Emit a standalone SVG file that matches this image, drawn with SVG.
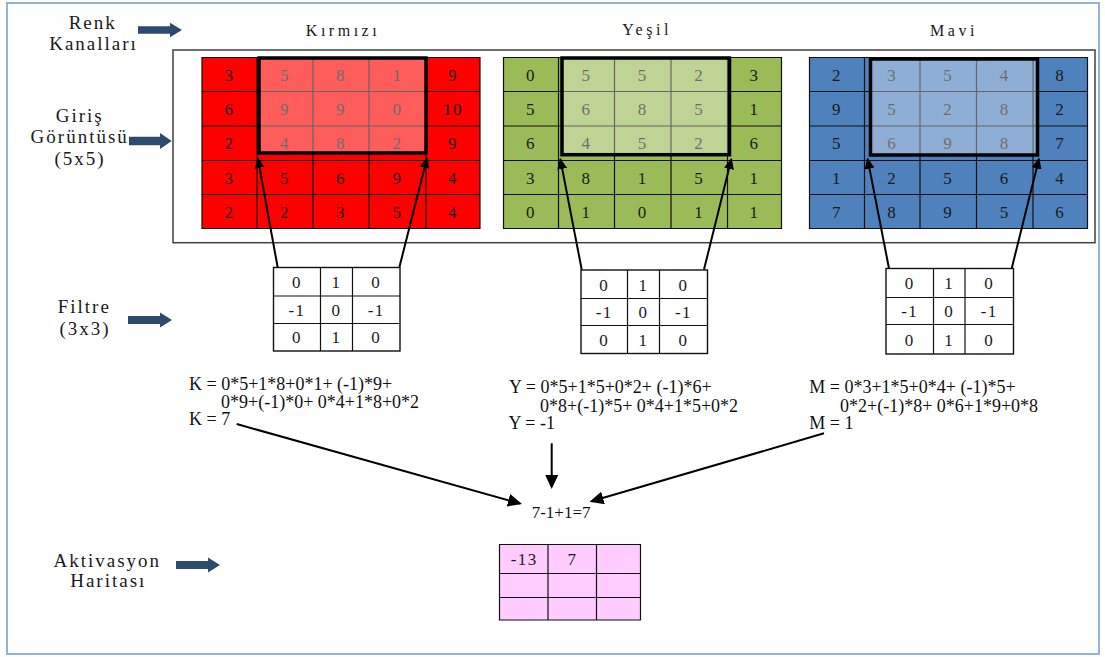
<svg xmlns="http://www.w3.org/2000/svg" width="1105" height="657" viewBox="0 0 1105 657">
  <defs>
    <style>
      .lbl { font-family: "Liberation Serif", "Times New Roman", serif; font-size: 19px; letter-spacing: 2px; fill: #1a1a1a; text-anchor: middle; }
      .ttl { font-family: "Liberation Serif", "Times New Roman", serif; font-size: 16px; letter-spacing: 3.5px; fill: #1a1a1a; text-anchor: middle; }
      .cell { font-family: "Liberation Serif", "Times New Roman", serif; font-size: 17px; letter-spacing: 1.5px; fill: #1a1a1a; text-anchor: middle; }
      .fml { font-family: "Liberation Serif", "Times New Roman", serif; font-size: 18px; fill: #111; }
      .gridln { fill: none; stroke: #111; stroke-width: 1.2; }
      .hl { fill: #ffffff; fill-opacity: 0.36; stroke: #000; stroke-width: 3.5; }
      .flt { fill: #ffffff; stroke: #111; stroke-width: 1.4; }
      .conn { fill: none; stroke: #000; stroke-width: 2; }
      .blk { fill: #2E4A6C; }
    </style>
    <marker id="headS" markerUnits="userSpaceOnUse" markerWidth="12" markerHeight="10" refX="10" refY="5" orient="auto">
      <path d="M0,0 L11,5 L0,10 z" fill="#000"/>
    </marker>
    <marker id="headL" markerUnits="userSpaceOnUse" markerWidth="15" markerHeight="13" refX="12" refY="6.5" orient="auto">
      <path d="M0,0 L14,6.5 L0,13 z" fill="#000"/>
    </marker>
    <path id="blockArrow" d="M0,-3.8 H32 V-7.2 L44,0 L32,7.2 V3.8 H0 Z"/>
  </defs>

  <!-- page background and borders -->
  <rect x="0" y="0" width="1105" height="657" fill="#ffffff"/>
  <rect x="7" y="3" width="1092" height="651" fill="#ffffff" stroke="#95B3D7" stroke-width="2"/>
  <rect x="173" y="50" width="922" height="192.7" fill="none" stroke="#404040" stroke-width="1.5"/>

  <!-- row labels -->
  <g id="label-renk">
    <text class="lbl" x="92.7" y="29">Renk</text>
    <text class="lbl" x="93.5" y="50">Kanalları</text>
    <use href="#blockArrow" class="blk" transform="translate(138,30)"/>
  </g>
  <g id="label-giris">
    <text class="lbl" x="79.7" y="121.7">Giriş</text>
    <text class="lbl" x="79.7" y="143.3">Görüntüsü</text>
    <text class="lbl" x="80" y="165">(5x5)</text>
    <use href="#blockArrow" class="blk" transform="translate(129,141) scale(0.97,1.1)"/>
  </g>
  <g id="label-filtre">
    <text class="lbl" x="84.3" y="312.7">Filtre</text>
    <text class="lbl" x="85" y="335">(3x3)</text>
    <use href="#blockArrow" class="blk" transform="translate(128,320) scale(1,1.05)"/>
  </g>
  <g id="label-aktivasyon">
    <text class="lbl" x="107.3" y="566.7">Aktivasyon</text>
    <text class="lbl" x="108.3" y="586.7">Haritası</text>
    <use href="#blockArrow" class="blk" transform="translate(176,565) scale(1,1.05)"/>
  </g>

  <!-- channel titles -->
  <text class="ttl" x="343" y="36">Kırmızı</text>
  <text class="ttl" x="647" y="35">Yeşil</text>
  <text class="ttl" x="954" y="36">Mavi</text>

  <!-- red channel 5x5 -->
  <g id="grid-red">
    <rect x="202" y="57.5" width="278" height="171" fill="#FF0000"/>
    <path class="gridln" d="M202,57.5 H480 V228.5 H202 Z M257,57.5 V228.5 M313,57.5 V228.5 M369,57.5 V228.5 M426,57.5 V228.5 M202,91.5 H480 M202,126 H480 M202,160.5 H480 M202,194.5 H480"/>
    <g class="cell">
      <text x="229.5" y="80.5">3</text><text x="285" y="80.5">5</text><text x="341" y="80.5">8</text><text x="397.5" y="80.5">1</text><text x="453" y="80.5">9</text>
      <text x="229.5" y="114.8">6</text><text x="285" y="114.8">9</text><text x="341" y="114.8">9</text><text x="397.5" y="114.8">0</text><text x="453" y="114.8">10</text>
      <text x="229.5" y="149.3">2</text><text x="285" y="149.3">4</text><text x="341" y="149.3">8</text><text x="397.5" y="149.3">2</text><text x="453" y="149.3">9</text>
      <text x="229.5" y="183.5">3</text><text x="285" y="183.5">5</text><text x="341" y="183.5">6</text><text x="397.5" y="183.5">9</text><text x="453" y="183.5">4</text>
      <text x="229.5" y="217.5">2</text><text x="285" y="217.5">2</text><text x="341" y="217.5">3</text><text x="397.5" y="217.5">5</text><text x="453" y="217.5">4</text>
    </g>
    <rect class="hl" x="259" y="58" width="167" height="95"/>
  </g>

  <!-- green channel 5x5 -->
  <g id="grid-green">
    <rect x="503.5" y="57.5" width="278" height="171" fill="#9BBB59"/>
    <path class="gridln" d="M503.5,57.5 H781.5 V228.5 H503.5 Z M558.5,57.5 V228.5 M614.5,57.5 V228.5 M671,57.5 V228.5 M727.5,57.5 V228.5 M503.5,91.5 H781.5 M503.5,126 H781.5 M503.5,160.5 H781.5 M503.5,194.5 H781.5"/>
    <g class="cell">
      <text x="531" y="80.5">0</text><text x="586.5" y="80.5">5</text><text x="642.8" y="80.5">5</text><text x="699.3" y="80.5">2</text><text x="754.5" y="80.5">3</text>
      <text x="531" y="114.8">5</text><text x="586.5" y="114.8">6</text><text x="642.8" y="114.8">8</text><text x="699.3" y="114.8">5</text><text x="754.5" y="114.8">1</text>
      <text x="531" y="149.3">6</text><text x="586.5" y="149.3">4</text><text x="642.8" y="149.3">5</text><text x="699.3" y="149.3">2</text><text x="754.5" y="149.3">6</text>
      <text x="531" y="183.5">3</text><text x="586.5" y="183.5">8</text><text x="642.8" y="183.5">1</text><text x="699.3" y="183.5">5</text><text x="754.5" y="183.5">1</text>
      <text x="531" y="217.5">0</text><text x="586.5" y="217.5">1</text><text x="642.8" y="217.5">0</text><text x="699.3" y="217.5">1</text><text x="754.5" y="217.5">1</text>
    </g>
    <rect class="hl" x="562" y="58" width="167.5" height="96.7"/>
  </g>

  <!-- blue channel 5x5 -->
  <g id="grid-blue">
    <rect x="809.5" y="57.5" width="278" height="171" fill="#4F81BD"/>
    <path class="gridln" d="M809.5,57.5 H1087.5 V228.5 H809.5 Z M864.5,57.5 V228.5 M920,57.5 V228.5 M976.5,57.5 V228.5 M1033,57.5 V228.5 M809.5,91.5 H1087.5 M809.5,126 H1087.5 M809.5,160.5 H1087.5 M809.5,194.5 H1087.5"/>
    <g class="cell">
      <text x="837" y="80.5">2</text><text x="892.3" y="80.5">3</text><text x="948.3" y="80.5">5</text><text x="1004.8" y="80.5">4</text><text x="1060.3" y="80.5">8</text>
      <text x="837" y="114.8">9</text><text x="892.3" y="114.8">5</text><text x="948.3" y="114.8">2</text><text x="1004.8" y="114.8">8</text><text x="1060.3" y="114.8">2</text>
      <text x="837" y="149.3">5</text><text x="892.3" y="149.3">6</text><text x="948.3" y="149.3">9</text><text x="1004.8" y="149.3">8</text><text x="1060.3" y="149.3">7</text>
      <text x="837" y="183.5">1</text><text x="892.3" y="183.5">2</text><text x="948.3" y="183.5">5</text><text x="1004.8" y="183.5">6</text><text x="1060.3" y="183.5">4</text>
      <text x="837" y="217.5">7</text><text x="892.3" y="217.5">8</text><text x="948.3" y="217.5">9</text><text x="1004.8" y="217.5">5</text><text x="1060.3" y="217.5">6</text>
    </g>
    <rect class="hl" x="870.5" y="59" width="167" height="96"/>
  </g>

  <!-- 3x3 filters -->
  <g id="filter-red">
    <rect class="flt" x="273.5" y="267.5" width="126.5" height="83.5"/>
    <path class="gridln" d="M320.5,267.5 V351 M352.5,267.5 V351 M273.5,296 H400 M273.5,323.5 H400"/>
    <g class="cell">
      <text x="297" y="288">0</text><text x="336.5" y="288">1</text><text x="376.3" y="288">0</text>
      <text x="297" y="316">-1</text><text x="336.5" y="316">0</text><text x="376.3" y="316">-1</text>
      <text x="297" y="343.3">0</text><text x="336.5" y="343.3">1</text><text x="376.3" y="343.3">0</text>
    </g>
  </g>
  <g id="filter-green">
    <rect class="flt" x="581" y="270" width="126.5" height="83.5"/>
    <path class="gridln" d="M627.5,270 V353.5 M659.5,270 V353.5 M581,298.5 H707.5 M581,325.5 H707.5"/>
    <g class="cell">
      <text x="604.3" y="290.5">0</text><text x="643.5" y="290.5">1</text><text x="683.5" y="290.5">0</text>
      <text x="604.3" y="318">-1</text><text x="643.5" y="318">0</text><text x="683.5" y="318">-1</text>
      <text x="604.3" y="345.5">0</text><text x="643.5" y="345.5">1</text><text x="683.5" y="345.5">0</text>
    </g>
  </g>
  <g id="filter-blue">
    <rect class="flt" x="886" y="268.5" width="127.5" height="85.5"/>
    <path class="gridln" d="M933.5,268.5 V354 M965,268.5 V354 M886,297.5 H1013.5 M886,324.5 H1013.5"/>
    <g class="cell">
      <text x="909.8" y="289">0</text><text x="949.3" y="289">1</text><text x="989.3" y="289">0</text>
      <text x="909.8" y="317">-1</text><text x="949.3" y="317">0</text><text x="989.3" y="317">-1</text>
      <text x="909.8" y="345.5">0</text><text x="949.3" y="345.5">1</text><text x="989.3" y="345.5">0</text>
    </g>
  </g>

  <!-- per-channel sums -->
  <g id="sum-red" class="fml">
    <text x="189" y="390">K = 0*5+1*8+0*1+ (-1)*9+</text>
    <text x="221" y="407.7">0*9+(-1)*0+ 0*4+1*8+0*2</text>
    <text x="189" y="425">K = 7</text>
  </g>
  <g id="sum-green" class="fml">
    <text x="509" y="393">Y = 0*5+1*5+0*2+ (-1)*6+</text>
    <text x="540" y="411.5">0*8+(-1)*5+ 0*4+1*5+0*2</text>
    <text x="508.5" y="429.3">Y = -1</text>
  </g>
  <g id="sum-blue" class="fml">
    <text x="809.3" y="393.3">M = 0*3+1*5+0*4+ (-1)*5+</text>
    <text x="840" y="411.7">0*2+(-1)*8+ 0*6+1*9+0*8</text>
    <text x="809.3" y="429">M = 1</text>
  </g>

  <g id="total">
    <text class="fml" x="531.7" y="518.3" style="font-size:17px">7-1+1=7</text>
  </g>

  <!-- activation map -->
  <g id="activation-map">
    <rect x="499.5" y="544.5" width="141" height="75.5" fill="#FFCCFF"/>
    <path class="gridln" d="M499.5,544.5 H640.5 V620 H499.5 Z M548,544.5 V620 M596.5,544.5 V620 M499.5,573.5 H640.5 M499.5,597.5 H640.5"/>
    <text class="cell" x="524.3" y="565">-13</text>
    <text class="cell" x="572.5" y="565">7</text>
  </g>

  <!-- connectors -->
  <g id="connectors" class="conn">
    <line x1="277.7" y1="267.5" x2="257.8" y2="158" marker-end="url(#headS)"/>
    <line x1="399.3" y1="267.5" x2="427" y2="158" marker-end="url(#headS)"/>
    <line x1="581.7" y1="269.5" x2="560.3" y2="159" marker-end="url(#headS)"/>
    <line x1="704" y1="269.5" x2="731.4" y2="159" marker-end="url(#headS)"/>
    <line x1="889" y1="268.5" x2="867.6" y2="158.7" marker-end="url(#headS)"/>
    <line x1="1011.7" y1="268.5" x2="1039" y2="158.7" marker-end="url(#headS)"/>
    <line x1="236.7" y1="424" x2="520" y2="503.5" marker-end="url(#headL)"/>
    <line x1="551.7" y1="443.3" x2="551.7" y2="487" marker-end="url(#headL)"/>
    <line x1="824" y1="433.3" x2="591.5" y2="501.3" marker-end="url(#headL)"/>
  </g>
</svg>
